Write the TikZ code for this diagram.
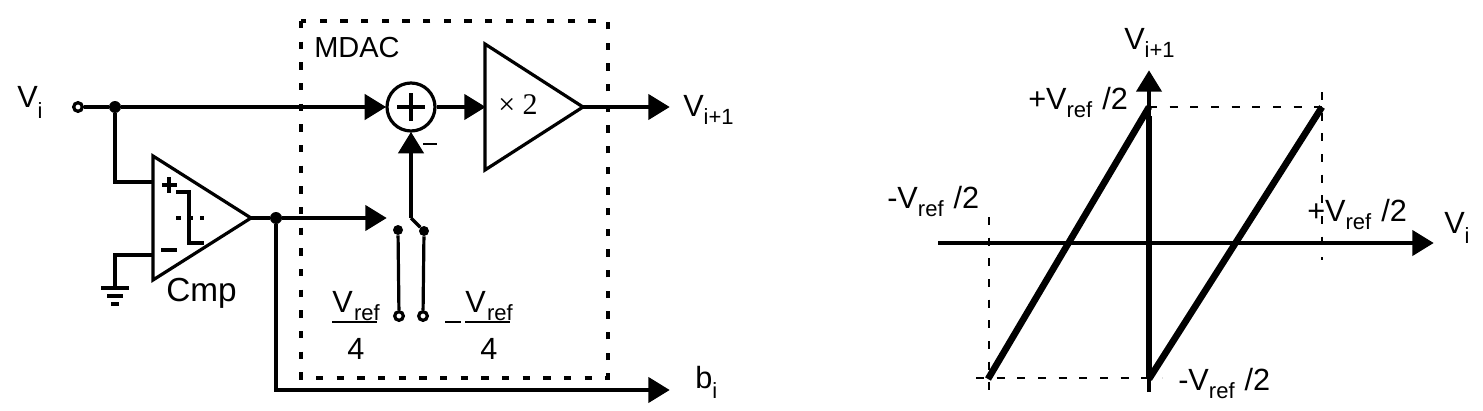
\documentclass[tikz,border=0pt]{standalone}
\usepackage{fontspec}
\setmainfont{Liberation Sans}
\newfontfamily\timesfont{Liberation Serif}
\usetikzlibrary{arrows.meta}
\newcommand{\subtxt}[1]{\raisebox{-6pt}{\fontsize{16.5}{18}\selectfont #1}}
\newcommand{\subidx}[1]{\raisebox{-7.5pt}{\fontsize{16.5}{18}\selectfont #1}}
\newcommand{\halfref}[1]{#1V\subtxt{ref}\hspace{7.5pt}/2}
\tikzset{
	wire/.style={line width=2.4pt},
	arrowed/.style={wire,-{Triangle[length=16pt,width=19pt]},shorten >=-0.5pt},
	dotnode/.style={circle,fill=black,inner sep=0pt,minimum size=7.5pt},
	pinnode/.style={circle,draw=black,fill=white,line width=2.4pt,inner sep=0pt,minimum size=6.5pt},
	lbl/.style={inner sep=0pt,anchor=base west,font=\fontsize{23}{26}\selectfont},
	boxline/.style={line width=2.8pt,dash pattern=on 5.5pt off 10pt},
	guide/.style={line width=1pt,dash pattern=on 6pt off 9.5pt},
	guidebold/.style={line width=1.5pt,dash pattern=on 6pt off 9.5pt},
	saw/.style={line width=5pt}
}
\begin{document}
\begin{tikzpicture}[x=0.75pt,y=-0.75pt]
\useasboundingbox (0,0) rectangle (1483,410);
\draw[boxline] (301,21) rectangle (608,378);
\node[lbl,font=\fontsize{21.75}{24}\selectfont] (mdac) at (314,58) {MDAC};
\node[lbl] (vin) at (17,108) {V\subidx{i}};
\node[pinnode] (pin) at (78,107) {};
\node[dotnode,minimum size=9pt] (ja) at (115,107) {};
\node[circle,draw,wire,minimum size=36pt,inner sep=0pt] (sum) at (411,107) {};
\coordinate (ampa) at (485,44);
\coordinate (ampb) at (485,170);
\coordinate (ampc) at (583,107);
\coordinate (ampin) at (485,107);
\coordinate (vout) at (669,107);
\draw[wire,line join=miter] (ampa)--(ampc)--(ampb)--cycle;
\draw[wire] (pin)--(ja);
\draw[arrowed] (ja)--(sum);
\draw[arrowed] (sum)--(ampin);
\draw[arrowed] (ampc)--(vout);
\draw[line width=2.3pt] (411,93)--(411,121);
\draw[line width=2.3pt] (397,107)--(425,107);
\node[lbl,font=\timesfont\fontsize{22.5}{24}\selectfont] (gain) at (498,114) {× 2};
\node[lbl] (vnext) at (683,116) {V\subtxt{i+1}};
\coordinate (cmpa) at (153,156);
\coordinate (cmpb) at (153,280);
\coordinate (cmpc) at (251,218);
\coordinate (cmpp) at (153,182);
\coordinate (cmpn) at (153,255);
\coordinate (gnd) at (115,288);
\draw[wire,line join=miter] (cmpa)--(cmpc)--(cmpb)--cycle;
\draw[wire] (ja)--(115,182)--(cmpp);
\draw[wire] (cmpn)--(115,255)--(gnd);
\foreach \w/\y in {14/288,8/296,4/304}{
	\draw[wire] (115-\w,\y)--(115+\w,\y);
}
\draw[line width=2.6pt] (162,185)--(177,185);
\draw[line width=2.6pt] (169,177)--(169,193);
\draw[line width=2.6pt] (161,250)--(177,250);
\draw[wire] (176,192)--(189,192)--(189,243)--(204,243);
\draw[line width=2.4pt,dash pattern=on 4pt off 5pt] (176,218)--(204,218);
\node[lbl,font=\fontsize{25}{28}\selectfont] (cmp) at (166,301) {Cmp};
\node[dotnode,minimum size=9pt] (jb) at (276,218) {};
\coordinate (sel) at (386,218);
\coordinate (bout) at (669,390);
\draw[wire] (cmpc)--(jb);
\draw[arrowed] (jb)--(sel);
\draw[arrowed] (jb)--(276,390)--(bout);
\node[lbl] (bi) at (695,388) {b\subidx{i}};
\node[dotnode] (swa) at (398,230) {};
\node[dotnode] (swb) at (424,231) {};
\node[pinnode] (pina) at (399,316) {};
\node[pinnode] (pinb) at (423,316) {};
\draw[wire] (swa)--(pina);
\draw[wire] (swb)--(pinb);
\coordinate (swc) at (411,218);
\draw[wire] (swb)--(swc);
\draw[arrowed] (swc)--(sum);
\draw[line width=2pt] (423,144)--(437,144);
\foreach \n/\x in {fl/332,fr/465}{
	\node[lbl] (\n) at (\x,312) {V\hspace{1pt}\subtxt{ref}};
	\draw[line width=2pt] (\x,322)--(\x+45,322);
	\node[lbl] (\n4) at (\x+15,359) {4};
}
\draw[line width=1pt] (445,322)--(461,322);
\coordinate (xl) at (938,243);
\coordinate (xr) at (1433,243);
\coordinate (yt) at (1149,71);
\coordinate (yb) at (1149,392);
\coordinate (stl) at (988,379);
\coordinate (stm) at (1149,107);
\coordinate (stb) at (1149,379);
\coordinate (str) at (1322,107);
\draw[arrowed] (xl)--(xr);
\draw[arrowed] (yb)--(yt);
\draw[guide] (stm)--(str);
\draw[guide] (1322,92)--(1322,260);
\draw[guidebold] (989,217)--(989,390);
\draw[guidebold] (976,378)--(1162,378);
\draw[saw] (stl)--(stm);
\draw[saw] (stb)--(str);
\draw[saw] (1149,116)--(stb);
\node[lbl] (vpa) at (1028,109) {\halfref{+}};
\node[lbl] (vma) at (887,208) {\halfref{-}};
\node[lbl] (vpb) at (1307,221) {\halfref{+}};
\node[lbl] (vmb) at (1178,390) {\halfref{-}};
\node[lbl] (vyl) at (1124,50) {V\subtxt{i+1}};
\node[lbl] (vxl) at (1444,233) {V\subidx{i}};
\end{tikzpicture}
\end{document}
